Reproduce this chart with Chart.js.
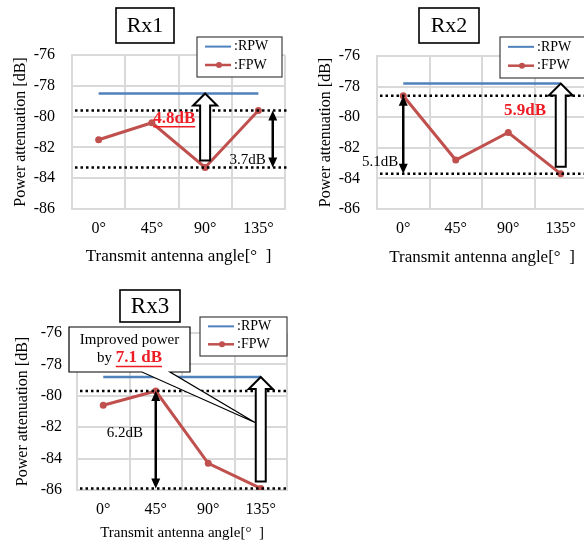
<!DOCTYPE html>
<html><head><meta charset="utf-8">
<script src="https://cdn.jsdelivr.net/npm/chart.js@4"></script>
<style>
html,body{margin:0;padding:0;background:#fff;overflow:hidden;width:584px;height:543px;}
canvas{position:absolute;}
</style></head><body>
<canvas id="c1" width="292" height="270" style="left:0;top:0"></canvas>
<canvas id="c2" width="300" height="270" style="left:292px;top:0"></canvas>
<canvas id="c3" width="292" height="273" style="left:0;top:270px"></canvas>
<script>
// ---------- data ----------
const categories = ['0°', '45°', '90°', '135°'];
const yTicks = [-86, -84, -82, -80, -78, -76];
const rx1RPW = [-78.5, -78.5, -78.5, -78.5];
const rx1FPW = [-81.5, -80.4, -83.3, -79.6];
const rx2RPW = [-77.8, -77.8, -77.8, -77.8];
const rx2FPW = [-78.6, -82.8, -81.0, -83.7];
const rx3RPW = [-78.8, -78.8, -78.8, -78.8];
const rx3FPW = [-80.6, -79.7, -84.3, -85.9];
const seriesNames = ['RPW', 'FPW'];
const xTitle = 'Transmit antenna angle[°  ]';
const yTitle = 'Power attenuation [dB]';

// ---------- style ----------
const SERIF = '"Liberation Serif", "Times New Roman", serif';
const BLUE = '#4f81bd', RED = '#c0504d', HL = '#ee1c24', GRID = '#d9d9d9';

function diff(a, b) { return (a - b).toFixed(1); }

function hollowArrow(ctx, x, yTop, yBot) {
  const sw = 5, hw = 12, hl = 12;
  ctx.beginPath();
  ctx.moveTo(x, yTop);
  ctx.lineTo(x + hw, yTop + hl);
  ctx.lineTo(x + sw, yTop + hl);
  ctx.lineTo(x + sw, yBot);
  ctx.lineTo(x - sw, yBot);
  ctx.lineTo(x - sw, yTop + hl);
  ctx.lineTo(x - hw, yTop + hl);
  ctx.closePath();
  ctx.fillStyle = '#fff'; ctx.fill();
  ctx.strokeStyle = '#000'; ctx.lineWidth = 2; ctx.lineJoin = 'miter'; ctx.stroke();
}
function doubleArrow(ctx, x, y1, y2) {
  const hw = 4.5, hl = 10;
  ctx.strokeStyle = '#000'; ctx.fillStyle = '#000'; ctx.lineWidth = 2.5;
  ctx.beginPath(); ctx.moveTo(x, y1 + hl - 1); ctx.lineTo(x, y2 - hl + 1); ctx.stroke();
  ctx.beginPath(); ctx.moveTo(x, y1); ctx.lineTo(x + hw, y1 + hl); ctx.lineTo(x - hw, y1 + hl); ctx.closePath(); ctx.fill();
  ctx.beginPath(); ctx.moveTo(x, y2); ctx.lineTo(x + hw, y2 - hl); ctx.lineTo(x - hw, y2 - hl); ctx.closePath(); ctx.fill();
}
function drawText(ctx, t, x, y, o) {
  ctx.font = (o.bold ? 'bold ' : '') + o.size + 'px ' + SERIF;
  ctx.fillStyle = o.color || '#000';
  ctx.textAlign = o.align || 'center'; ctx.textBaseline = 'middle';
  ctx.fillText(t, x, y);
  if (o.ul) {
    const w = ctx.measureText(t).width;
    const x0 = (o.align === 'left') ? x : x - w / 2;
    ctx.strokeStyle = o.color; ctx.lineWidth = 1.5;
    ctx.beginPath(); ctx.moveTo(x0, y + o.size * 0.5); ctx.lineTo(x0 + w, y + o.size * 0.5); ctx.stroke();
  }
}
function drawLegend(ctx, b) {
  ctx.fillStyle = '#fff'; ctx.fillRect(b[0], b[1], b[2], b[3]);
  ctx.strokeStyle = '#404040'; ctx.lineWidth = 1.2; ctx.strokeRect(b[0], b[1], b[2], b[3]);
  const rows = [b[1] + b[3] * 0.24, b[1] + b[3] * 0.7];
  ctx.strokeStyle = BLUE; ctx.lineWidth = 2;
  ctx.beginPath(); ctx.moveTo(b[0] + 8, rows[0]); ctx.lineTo(b[0] + 34, rows[0]); ctx.stroke();
  ctx.strokeStyle = RED; ctx.lineWidth = 2.5;
  ctx.beginPath(); ctx.moveTo(b[0] + 8, rows[1]); ctx.lineTo(b[0] + 34, rows[1]); ctx.stroke();
  ctx.fillStyle = RED; ctx.beginPath(); ctx.arc(b[0] + 22, rows[1], 3, 0, Math.PI * 2); ctx.fill();
  drawText(ctx, ':' + seriesNames[0], b[0] + 37, rows[0], {size: 14, align: 'left'});
  drawText(ctx, ':' + seriesNames[1], b[0] + 37, rows[1], {size: 14, align: 'left'});
}
function drawTitleBox(ctx, t, b, size) {
  ctx.fillStyle = '#fff'; ctx.fillRect(b[0], b[1], b[2], b[3]);
  ctx.strokeStyle = '#000'; ctx.lineWidth = 1.6; ctx.strokeRect(b[0], b[1], b[2], b[3]);
  drawText(ctx, t, b[0] + b[2] / 2, b[1] + b[3] / 2 + 1, {size: size});
}

function annotPlugin(name, rpw, fpw, L) {
  return {
    id: 'annot' + name,
    afterDatasetsDraw(chart) {
      const {ctx, chartArea: ca, scales: {x, y}} = chart;
      const hi = Math.max(...fpw), lo = Math.min(...fpw);
      const loIdx = fpw.indexOf(lo), hiIdx = fpw.indexOf(hi);
      const ref = rpw[0];
      ctx.save();
      ctx.strokeStyle = '#000'; ctx.lineWidth = 2.5; ctx.setLineDash([2.5, 3]);
      [hi, lo].forEach(v => {
        const py = y.getPixelForValue(v);
        ctx.beginPath(); ctx.moveTo(ca.left + 3, py); ctx.lineTo(ca.right + 2, py); ctx.stroke();
      });
      ctx.setLineDash([]);
      hollowArrow(ctx, x.getPixelForValue(loIdx), y.getPixelForValue(ref), y.getPixelForValue(lo) - 7);
      doubleArrow(ctx, x.getPixelForValue(hiIdx + L.dblShift), y.getPixelForValue(hi), y.getPixelForValue(lo));
      const txt = {gain: diff(ref, lo) + 'dB', spread: diff(hi, lo) + 'dB'};
      L.labels.forEach(l => {
        drawText(ctx, txt[l.kind], x.getPixelForValue(l.i), y.getPixelForValue(l.v), l);
      });
      ctx.restore();
    },
    afterDraw(chart) {
      const {ctx, scales: {x, y}} = chart;
      ctx.save();
      if (L.callout) {
        const c = L.callout, b = c.box;
        const tx = x.getPixelForValue(c.ti), ty = y.getPixelForValue(c.tv);
        ctx.beginPath();
        ctx.moveTo(b[0], b[1]); ctx.lineTo(b[0] + b[2], b[1]); ctx.lineTo(b[0] + b[2], b[1] + b[3]);
        ctx.lineTo(c.pR, b[1] + b[3]); ctx.lineTo(tx, ty); ctx.lineTo(c.pL, b[1] + b[3]);
        ctx.lineTo(b[0], b[1] + b[3]); ctx.closePath();
        ctx.fillStyle = '#fff'; ctx.fill();
        ctx.strokeStyle = '#000'; ctx.lineWidth = 1.2; ctx.stroke();
        const cx = b[0] + b[2] / 2;
        drawText(ctx, 'Improved power', cx, b[1] + 13, {size: 15});
        const gain = diff(rpw[0], Math.min(...fpw)) + ' dB';
        ctx.font = '15px ' + SERIF; const w1 = ctx.measureText('by ').width;
        ctx.font = 'bold 17px ' + SERIF; const w2 = ctx.measureText(gain).width;
        const x0 = cx - (w1 + w2) / 2, yy = b[1] + 31;
        drawText(ctx, 'by ', x0, yy, {size: 15, align: 'left'});
        drawText(ctx, gain, x0 + w1, yy, {size: 17, bold: true, color: HL, ul: true, align: 'left'});
      }
      drawLegend(ctx, L.legend);
      drawTitleBox(ctx, name, L.titleBox, L.titleSize);
      ctx.restore();
    }
  };
}

function build(id, name, rpw, fpw, L) {
  const canvas = document.getElementById(id);
  const W = canvas.width, H = canvas.height;
  return new Chart(canvas, {
    type: 'line',
    data: {labels: categories, datasets: [
      {label: seriesNames[0], data: rpw, borderColor: BLUE, backgroundColor: BLUE, borderWidth: 2.5, pointRadius: 0, fill: false},
      {label: seriesNames[1], data: fpw, borderColor: RED, backgroundColor: RED, borderWidth: 3, pointRadius: 3.5,
       pointBorderWidth: 0, pointBackgroundColor: RED, pointBorderColor: RED, fill: false}
    ]},
    options: {
      responsive: false, animation: false, devicePixelRatio: 1,
      layout: {padding: {left: 0, top: L.top, right: W - L.right, bottom: 0}},
      plugins: {legend: {display: false}, tooltip: {enabled: false}},
      scales: {
        x: {
          type: 'category', offset: true,
          grid: {offset: true, color: GRID, lineWidth: 2, drawTicks: false},
          border: {color: GRID, width: 2},
          ticks: {padding: 10, color: '#000', font: {family: SERIF, size: 16}, maxRotation: 0},
          title: {display: true, text: xTitle, color: '#000', font: {family: SERIF, size: L.xTitleSize}, padding: {top: 0, bottom: L.xTitlePad}},
          afterFit(s) { s.height = H - L.bottom; }
        },
        y: {
          min: -86, max: -76,
          afterBuildTicks(s) { s.ticks = yTicks.map(v => ({value: v})); },
          grid: {color: GRID, lineWidth: 2, drawTicks: false},
          border: {color: GRID, width: 2},
          ticks: {padding: L.yTickPad, color: '#000', font: {family: SERIF, size: 16}, callback: v => String(v)},
          title: {display: true, text: yTitle, color: '#000', font: {family: SERIF, size: 16}, padding: {top: L.yTitlePad, bottom: 0}},
          afterFit(s) { s.width = L.left; }
        }
      }
    },
    plugins: [annotPlugin(name, rpw, fpw, L)]
  });
}

build('c1', 'Rx1', rx1RPW, rx1FPW, {
  left: 72, right: 285, top: 55, bottom: 209, yTickPad: 17, yTitlePad: 11, xTitleSize: 17, xTitlePad: 3,
  dblShift: 0.27,
  labels: [
    {kind: 'gain', i: 1.42, v: -80.1, size: 17, bold: true, color: HL, ul: true},
    {kind: 'spread', i: 2.8, v: -82.8, size: 15}
  ],
  legend: [197, 37, 85, 40], titleBox: [116, 8, 58, 35], titleSize: 22
});
build('c2', 'Rx2', rx2RPW, rx2FPW, {
  left: 85, right: 295, top: 56, bottom: 209, yTickPad: 17, yTitlePad: 24, xTitleSize: 17, xTitlePad: 2,
  dblShift: 0,
  labels: [
    {kind: 'gain', i: 2.32, v: -79.6, size: 17, bold: true, color: HL},
    {kind: 'spread', i: -0.44, v: -82.9, size: 15}
  ],
  legend: [208, 37, 90, 41], titleBox: [127, 8, 60, 35], titleSize: 22
});
build('c3', 'Rx3', rx3RPW, rx3FPW, {
  left: 77, right: 287, top: 63, bottom: 220, yTickPad: 15, yTitlePad: 13, xTitleSize: 15, xTitlePad: 1,
  dblShift: 0,
  labels: [
    {kind: 'spread', i: 0.41, v: -82.4, size: 15}
  ],
  callout: {box: [69, 57, 121, 45], pL: 142, pR: 170, ti: 2.89, tv: -81.7},
  legend: [200, 47, 87, 39], titleBox: [120, 20, 60, 32], titleSize: 23
});
</script>
</body></html>
